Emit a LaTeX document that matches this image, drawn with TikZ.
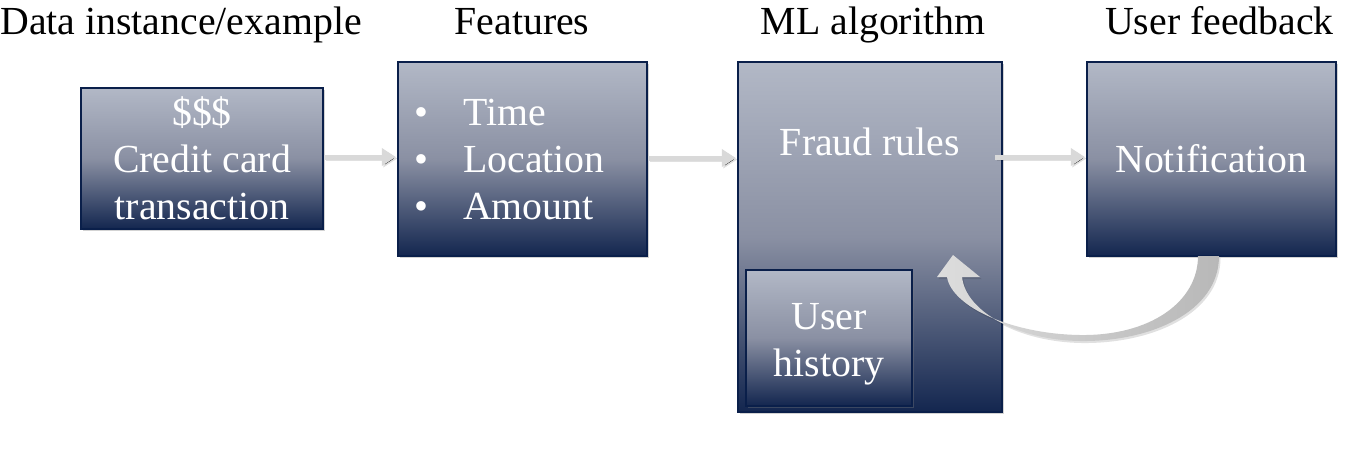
\documentclass[tikz,border=0pt]{standalone}
\usepackage{fontspec}
\setmainfont{Liberation Serif}
\usetikzlibrary{arrows.meta,shadows,calc}
\definecolor{navy}{HTML}{0A1F4A}
\definecolor{boxtop}{HTML}{B2B8C6}
\definecolor{boxmid}{HTML}{8A90A3}
\definecolor{boxbot}{HTML}{13264F}
\definecolor{arrowgray}{HTML}{D9D9D9}
\definecolor{arrowdark}{HTML}{B8B8B8}
\begin{document}
\begin{tikzpicture}[x=1pt,y=-1pt,
  box/.style={draw=navy, line width=2.3pt, top color=boxtop, bottom color=boxbot, middle color=boxmid,
    inner sep=0pt, drop shadow={opacity=0.35,shadow xshift=2pt,shadow yshift=-2pt}},
  title/.style={anchor=base, inner sep=0pt, font=\fontsize{39.8}{47}\selectfont, text=black},
  boxtext/.style={anchor=base, inner sep=0pt, font=\fontsize{39.8}{47}\selectfont, text=white},
  flow/.style={draw=arrowgray, line width=5pt, -{Triangle[length=14pt,width=17pt]}, shorten >=1pt,
    preaction={draw=black, draw opacity=0.12, line width=5pt, transform canvas={xshift=1.5pt,yshift=-1.5pt}}}
]
\useasboundingbox (0,0) rectangle (1349,464);

% titles
\node[title] (t1) at (181,34) {Data instance/example};
\node[title] (t2) at (522,34) {Features};
\node[title] (t3) at (873,34) {ML algorithm};
\node[title] (t4) at (1219.5,34) {User feedback};

% boxes
\node[box, minimum width=242, minimum height=141] (data) at (202,158.5) {};
\node[box, minimum width=249, minimum height=194] (feat) at (522.5,159) {};
\node[box, minimum width=264, minimum height=350] (ml) at (870,237) {};
\node[box, minimum width=166, minimum height=136] (hist) at (829,338) {};
\node[box, minimum width=249, minimum height=194] (notif) at (1211.5,159) {};

% box texts
\node[boxtext] (d1) at (202,125) {\$\$\$};
\node[boxtext] (d2) at (202,172) {Credit card};
\node[boxtext] (d3) at (202,219) {transaction};

\node[boxtext] (b1) at (421,125) {•};
\node[boxtext] (b2) at (421,172) {•};
\node[boxtext] (b3) at (421,219) {•};
\node[boxtext, anchor=base west] (f1) at (463,125) {Time};
\node[boxtext, anchor=base west] (f2) at (463,172) {Location};
\node[boxtext, anchor=base west] (f3) at (463,219) {Amount};

\node[boxtext] (fr) at (870,155) {Fraud rules};
\node[boxtext] (h1) at (829,329) {User};
\node[boxtext] (h2) at (829,376) {history};
\node[boxtext] (nt) at (1211.5,172) {Notification};

% straight connectors
\draw[flow] (data.east |- 0,157) -- (feat.west |- 0,157);
\draw[flow] (feat.east |- 0,158) -- (ml.west |- 0,158);
\draw[flow] ([xshift=-8pt]ml.east |- 0,157) -- (notif.west |- 0,157);

% curved feedback arrow (shadow then body)
\fill[black, opacity=0.12, xshift=1.5pt, yshift=-2pt]
  (1198,256) -- (1219,256)
  .. controls (1219,312) and (1150,342) .. (1080,341)
  .. controls (1018,340) and (966,312) .. (962,277)
  -- (980,277) -- (953,255) -- (937,277) -- (947,277)
  .. controls (952,307) and (1012,334) .. (1080,335)
  .. controls (1150,336) and (1198,302) .. (1198,256) -- cycle;
\shade[left color=arrowgray!90!white, right color=arrowdark]
  (1198,256) -- (1219,256)
  .. controls (1219,312) and (1150,342) .. (1080,341)
  .. controls (1018,340) and (966,312) .. (962,277)
  -- (980,277) -- (953,255) -- (937,277) -- (947,277)
  .. controls (952,307) and (1012,334) .. (1080,335)
  .. controls (1150,336) and (1198,302) .. (1198,256) -- cycle;
\end{tikzpicture}
\end{document}
